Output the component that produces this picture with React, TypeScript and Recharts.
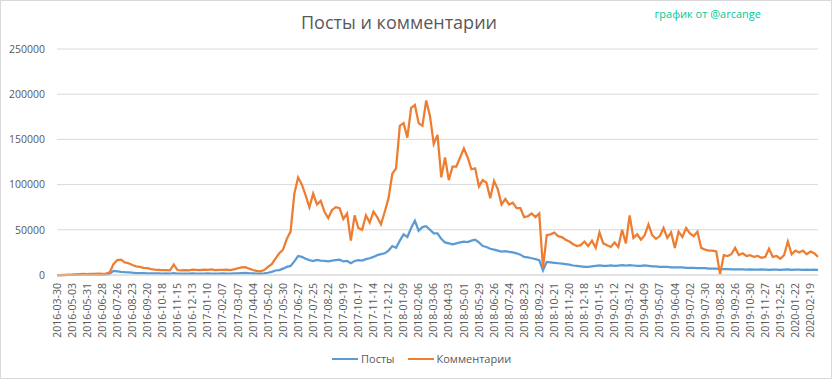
import React from "react";
import { LineChart, Line, XAxis, YAxis, CartesianGrid } from "recharts";

// one point per 7 categories (days with data)
const STEP = 7;
const LAST_INDEX = 1414;

const dateLabels = [
  "2016-03-30", "2016-05-03", "2016-05-31", "2016-06-28", "2016-07-26", "2016-08-23",
  "2016-09-20", "2016-10-18", "2016-11-15", "2016-12-13", "2017-01-10", "2017-02-07",
  "2017-03-07", "2017-04-04", "2017-05-02", "2017-05-30", "2017-06-27", "2017-07-25",
  "2017-08-22", "2017-09-19", "2017-10-17", "2017-11-14", "2017-12-12", "2018-01-09",
  "2018-02-06", "2018-03-06", "2018-04-03", "2018-05-01", "2018-05-29", "2018-06-26",
  "2018-07-24", "2018-08-23", "2018-09-22", "2018-10-21", "2018-11-20", "2018-12-18",
  "2019-01-15", "2019-02-12", "2019-03-12", "2019-04-09", "2019-05-07", "2019-06-04",
  "2019-07-02", "2019-07-30", "2019-08-28", "2019-09-26", "2019-10-30", "2019-11-27",
  "2019-12-25", "2020-01-22", "2020-02-19",
];
const LABEL_EVERY = 28;

const yTicks = [0, 50000, 100000, 150000, 200000, 250000];

const posts = [
  0, 0, 100, 100, 200, 200, 300, 300, 400, 300,
  400, 500, 400, 500, 1500, 4500, 4000, 3500, 3200, 3000,
  2500, 2200, 2000, 2000, 1900, 1800, 1700, 1700, 1600, 1700,
  1600, 2000, 1600, 1500, 1600, 1500, 1700, 1600, 1500, 1600,
  1700, 1600, 1500, 1600, 1700, 1600, 1500, 1700, 1900, 2200,
  2300, 2000, 1800, 1600, 1500, 1800, 2500, 3500, 5000, 5500,
  7000, 9000, 10000, 15000, 21000, 20000, 18000, 16500, 15500, 16700,
  16000, 15500, 15000, 16000, 16500, 17000, 15000, 15500, 13000, 15500,
  16500, 16000, 17500, 18500, 20000, 22000, 23000, 24000, 27000, 32000,
  30000, 38000, 45000, 42000, 52000, 60000, 49000, 53000, 54000, 50000,
  46000, 46000, 40000, 36000, 35000, 34000, 35000, 36000, 37000, 36500,
  38000, 39000, 36000, 32000, 31000, 29000, 28000, 27000, 26000, 26500,
  25500, 25000, 24000, 22500, 20000, 19500, 18500, 17500, 16500, 5000,
  14500, 14000, 13500, 13000, 12500, 12000, 11500, 10500, 10000, 9500,
  9000, 9000, 9500, 10000, 10500, 10000, 10000, 10500, 10000, 10500,
  11000, 10500, 11000, 10500, 10000, 10000, 10500, 10000, 9500, 9500,
  9000, 9000, 9000, 8500, 8500, 8500, 8500, 8000, 8000, 8000,
  7500, 7500, 7500, 7000, 7000, 7000, 6500, 6500, 6500, 6300,
  6300, 6200, 6300, 6000, 6200, 6000, 6000, 6200, 6000, 5800,
  6000, 6000, 5800, 6000, 6200, 5800, 6000, 6000, 5800, 6000,
  5800, 6000, 5800,
];

const comments = [
  0, 0, 0, 200, 300, 800, 1000, 1200, 1000, 1300,
  1200, 1500, 1300, 1600, 3000, 12000, 16500, 17000, 14000, 13000,
  11000, 9500, 9000, 8000, 7500, 6500, 6000, 5800, 5500, 5500,
  5200, 11500, 5500, 5000, 5500, 5200, 6000, 5800, 5500, 6000,
  5800, 6200, 5500, 5800, 5600, 6000, 5500, 6200, 7500, 8500,
  8700, 7000, 5500, 4500, 4000, 5500, 9000, 12000, 18000, 24000,
  28000, 40000, 48000, 90000, 108000, 100000, 88000, 75000, 90000, 78000,
  82000, 70000, 63000, 72000, 75000, 74000, 62000, 68000, 38000, 66000,
  52000, 50000, 66000, 58000, 70000, 64000, 56000, 70000, 85000, 112000,
  118000, 165000, 168000, 152000, 185000, 188000, 168000, 165000, 193000, 176000,
  145000, 155000, 108000, 130000, 105000, 120000, 120000, 130000, 140000, 130000,
  117000, 118000, 98000, 105000, 102000, 85000, 104000, 95000, 78000, 84000,
  78000, 80000, 74000, 74000, 64000, 65000, 68000, 64000, 68000, 8000,
  44000, 45000, 47000, 43000, 42000, 39000, 37000, 34000, 32000, 33000,
  37000, 32000, 38000, 30000, 47000, 35000, 33000, 31000, 36000, 31000,
  50000, 35000, 66000, 41000, 45000, 39000, 44000, 56000, 44000, 40000,
  43000, 52000, 41000, 47000, 30000, 48000, 42000, 52000, 46000, 43000,
  48000, 30000, 28000, 27000, 27000, 26000, 1000, 22000, 21000, 23000,
  30000, 22000, 24000, 21000, 22000, 20000, 21000, 19000, 20000, 29000,
  20000, 21000, 18000, 22000, 37000, 23000, 27000, 25000, 27000, 23000,
  26000, 24000, 20000,
];

const data = comments.map((c, k) => ({ i: k * STEP, posts: posts[k], comments: c }));
const xTicks = dateLabels.map((_, n) => n * LABEL_EVERY);

const FONT = "'Open Sans', 'Noto Sans', sans-serif";
const TEXT = "#595959";
const GRID = "#d9d9d9";
const BLUE = "#5B9BD5";
const ORANGE = "#ED7D31";

const DateTick = (props: any) => {
  const { x, y, payload } = props;
  const label = dateLabels[Math.round(payload.value / LABEL_EVERY)] ?? "";
  return (
    <text
      x={x}
      y={y}
      dy="0.35em"
      transform={`rotate(-90 ${x} ${y})`}
      textAnchor="end"
      fontSize={10.5}
      fontFamily={FONT}
      fill={TEXT}
    >
      {label}
    </text>
  );
};

export default function App() {
  return (
    <div
      style={{
        position: "relative",
        width: 832,
        height: 379,
        boxSizing: "border-box",
        border: `1px solid ${GRID}`,
        background: "#fff",
        fontFamily: FONT,
      }}
    >
      <style>{`body{margin:0}`}</style>
      <LineChart
        width={830}
        height={377}
        data={data}
        margin={{ top: 48, right: 13, bottom: 0, left: 0 }}
        style={{ position: "absolute", left: 0, top: 0 }}
      >
        <CartesianGrid vertical={false} stroke={GRID} />
        <XAxis
          dataKey="i"
          type="number"
          domain={[0, LAST_INDEX]}
          ticks={xTicks}
          interval={0}
          tick={<DateTick />}
          tickLine={false}
          tickSize={0}
          tickMargin={8}
          axisLine={{ stroke: GRID }}
          height={103}
        />
        <YAxis
          domain={[0, 250000]}
          ticks={yTicks}
          width={56}
          axisLine={false}
          tickLine={false}
          tickSize={0}
          tickMargin={12}
          tick={{ fontSize: 10.5, fill: TEXT, fontFamily: FONT }}
        />
        <Line
          dataKey="posts"
          type="linear"
          stroke={BLUE}
          strokeWidth={2.25}
          dot={false}
          isAnimationActive={false}
        />
        <Line
          dataKey="comments"
          type="linear"
          stroke={ORANGE}
          strokeWidth={2.25}
          dot={false}
          isAnimationActive={false}
        />
      </LineChart>

      <div
        style={{
          position: "absolute",
          left: 398,
          top: 9,
          transform: "translateX(-50%)",
          fontSize: 18,
          lineHeight: "24px",
          color: TEXT,
          whiteSpace: "nowrap",
        }}
      >
        Посты и комментарии
      </div>
      <div
        style={{
          position: "absolute",
          right: 70,
          top: 5,
          fontSize: 11,
          lineHeight: "16px",
          color: "#00C896",
          whiteSpace: "nowrap",
        }}
      >
        график от @arcange
      </div>

      <div
        style={{
          position: "absolute",
          left: 331,
          top: 350,
          display: "flex",
          alignItems: "center",
          fontSize: 11,
          lineHeight: "16px",
          color: TEXT,
          whiteSpace: "nowrap",
        }}
      >
        <span style={{ display: "inline-block", width: 26, height: 2, background: BLUE, marginRight: 3 }} />
        <span style={{ marginRight: 13 }}>Посты</span>
        <span style={{ display: "inline-block", width: 26, height: 2, background: ORANGE, marginRight: 3 }} />
        <span>Комментарии</span>
      </div>
    </div>
  );
}
